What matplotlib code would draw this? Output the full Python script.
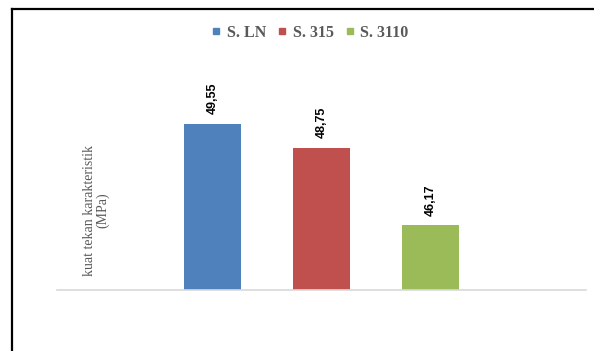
import matplotlib
matplotlib.use("Agg")
from matplotlib import pyplot as plt
from matplotlib.lines import Line2D

# data
series = ["S. LN", "S. 315", "S. 3110"]
values = [49.55, 48.75, 46.17]
labels = ["49,55", "48,75", "46,17"]
colors = ["#4f81bd", "#c0504d", "#9bbb59"]

text_gray = "#595959"

fig = plt.figure(figsize=(5.94, 3.51), dpi=100)

# plot area: baseline at y=290px, x from 57 to 586px
ax = fig.add_axes([57 / 594, (351 - 290) / 351, 529 / 594, 240 / 351])
pos = list(range(len(values)))
bars = ax.bar(pos, [v - 44 for v in values], bottom=44, width=0.523,
              color=colors, zorder=2)
ax.set_xlim(-1.427, 3.427)
ax.set_ylim(44, 52)

for b, lab in zip(bars, labels):
    ax.annotate(lab, (b.get_x() + b.get_width() / 2, b.get_y() + b.get_height()),
                xytext=(0, 9), textcoords="offset pixels", rotation=90,
                ha="center", va="bottom", fontsize=9, fontweight="bold",
                family="Liberation Sans", color="black")

for s in ["top", "right", "left"]:
    ax.spines[s].set_visible(False)
ax.spines["bottom"].set_color("#d9d9d9")
ax.spines["bottom"].set_linewidth(1.2)
ax.set_xticks([])
ax.set_yticks([])

fig.text(96 / 594, 1 - 210 / 351, "kuat tekan karakteristik\n(MPa)",
         rotation=90, ha="center", va="center", fontsize=10,
         family="Liberation Serif", color=text_gray, linespacing=0.95)

handles = [Line2D([], [], marker="s", linestyle="none", markersize=4.5,
                  markerfacecolor=c, markeredgecolor=c) for c in colors]
fig.legend(handles, series, loc="center", bbox_to_anchor=(310 / 594, 1 - 33 / 351),
           ncol=3, frameon=False, handlelength=0.6, handletextpad=0.37,
           columnspacing=0.7,
           prop={"family": "Liberation Serif", "weight": "bold", "size": 11.5},
           labelcolor=text_gray)

# outer frame (only left and top visible in the crop)
fig.add_artist(Line2D([11.5 / 594, 11.5 / 594], [0, 1 - 8.5 / 351],
                      color="black", linewidth=1.6, transform=fig.transFigure))
fig.add_artist(Line2D([11.5 / 594, 1], [1 - 8.5 / 351, 1 - 8.5 / 351],
                      color="black", linewidth=1.6, transform=fig.transFigure))

fig.savefig("out.png", dpi=100)
